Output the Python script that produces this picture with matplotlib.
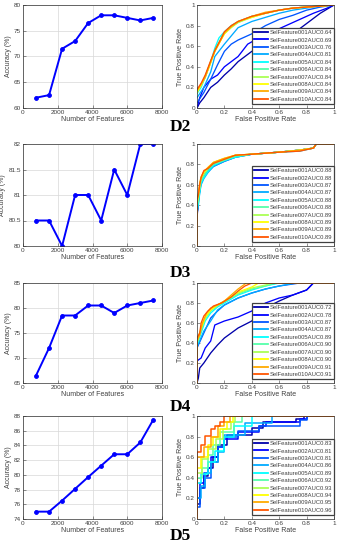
import matplotlib
matplotlib.use("Agg")
import matplotlib.pyplot as plt

plt.rcParams['font.family'] = ['Liberation Sans', 'DejaVu Sans']

# number of features used for every accuracy point
n_features = [750, 1500, 2250, 3000, 3750, 4500, 5250, 6000, 6750, 7500]

acc_d2 = [62, 62.5, 71.5, 73, 76.5, 78, 78, 77.5, 77, 77.5]
acc_d3 = [80.5, 80.5, 80, 81, 81, 80.5, 81.5, 81, 82, 82]
acc_d4 = [66.5, 72, 78.5, 78.5, 80.5, 80.5, 79, 80.5, 81, 81.5]
acc_d5 = [75, 75, 76.5, 78.1, 79.7, 81.25, 82.8, 82.8, 84.4, 87.5]

dataset_names = ['D2', 'D3', 'D4', 'D5']

auc_d2 = [0.64, 0.69, 0.76, 0.81, 0.84, 0.84, 0.84, 0.84, 0.84, 0.84]
auc_d3 = [0.88, 0.88, 0.87, 0.87, 0.88, 0.88, 0.89, 0.89, 0.89, 0.89]
auc_d4 = [0.72, 0.78, 0.87, 0.87, 0.89, 0.90, 0.90, 0.90, 0.91, 0.91]
auc_d5 = [0.83, 0.81, 0.81, 0.86, 0.89, 0.92, 0.93, 0.94, 0.95, 0.96]

# MATLAB jet(10)
curve_colors = [(0, 0, 0.667), (0, 0, 1), (0, 0.333, 1), (0, 0.667, 1), (0, 1, 1),
                (0.333, 1, 0.667), (0.667, 1, 0.333), (1, 1, 0), (1, 0.667, 0), (1, 0.333, 0)]

# ROC curves (fpr, tpr)
roc_d2 = [
    ([0, 0.02, 0.05, 0.1, 0.15, 0.2, 0.25, 0.3, 0.4, 0.5, 0.6, 0.7, 0.8, 0.9, 1],
     [0, 0.05, 0.1, 0.2, 0.25, 0.32, 0.38, 0.45, 0.55, 0.6, 0.66, 0.72, 0.82, 0.92, 1]),
    ([0, 0.02, 0.05, 0.1, 0.15, 0.2, 0.3, 0.37, 0.45, 0.55, 0.65, 0.75, 0.85, 0.95, 1],
     [0, 0.1, 0.2, 0.28, 0.32, 0.4, 0.5, 0.62, 0.68, 0.74, 0.8, 0.86, 0.92, 0.97, 1]),
    ([0, 0.05, 0.1, 0.15, 0.2, 0.25, 0.3, 0.4, 0.5, 0.6, 0.7, 0.8, 0.9, 1],
     [0.05, 0.15, 0.28, 0.42, 0.55, 0.62, 0.66, 0.72, 0.8, 0.86, 0.9, 0.95, 0.98, 1]),
    ([0, 0.05, 0.1, 0.13, 0.2, 0.25, 0.3, 0.4, 0.5, 0.6, 0.7, 0.85, 1],
     [0.1, 0.2, 0.35, 0.5, 0.62, 0.7, 0.78, 0.84, 0.88, 0.92, 0.95, 0.98, 1]),
    ([0, 0.03, 0.06, 0.1, 0.13, 0.16, 0.2, 0.25, 0.3, 0.4, 0.5, 0.6, 0.7, 0.8, 0.9, 1],
     [0.14, 0.2, 0.3, 0.45, 0.58, 0.68, 0.74, 0.8, 0.84, 0.89, 0.92, 0.95, 0.97, 0.98, 0.99, 1]),
    ([0, 0.03, 0.06, 0.1, 0.13, 0.17, 0.2, 0.25, 0.3, 0.4, 0.5, 0.6, 0.7, 0.8, 0.9, 1],
     [0.15, 0.22, 0.3, 0.44, 0.56, 0.66, 0.73, 0.79, 0.83, 0.89, 0.92, 0.95, 0.97, 0.98, 0.99, 1]),
    ([0, 0.03, 0.06, 0.1, 0.13, 0.17, 0.2, 0.25, 0.3, 0.4, 0.5, 0.6, 0.7, 0.8, 0.9, 1],
     [0.16, 0.22, 0.31, 0.45, 0.55, 0.65, 0.72, 0.78, 0.83, 0.88, 0.92, 0.95, 0.97, 0.98, 0.99, 1]),
    ([0, 0.03, 0.06, 0.1, 0.13, 0.17, 0.2, 0.25, 0.3, 0.4, 0.5, 0.6, 0.7, 0.8, 0.9, 1],
     [0.15, 0.22, 0.3, 0.44, 0.55, 0.65, 0.72, 0.79, 0.84, 0.88, 0.92, 0.95, 0.97, 0.98, 0.99, 1]),
    ([0, 0.03, 0.06, 0.1, 0.13, 0.17, 0.2, 0.25, 0.3, 0.4, 0.5, 0.6, 0.7, 0.8, 0.9, 1],
     [0.17, 0.23, 0.3, 0.45, 0.55, 0.65, 0.73, 0.79, 0.84, 0.89, 0.93, 0.95, 0.97, 0.98, 0.99, 1]),
    ([0, 0.03, 0.06, 0.1, 0.13, 0.17, 0.2, 0.25, 0.3, 0.4, 0.5, 0.6, 0.7, 0.8, 0.9, 1],
     [0.18, 0.24, 0.32, 0.46, 0.56, 0.66, 0.74, 0.8, 0.84, 0.89, 0.92, 0.95, 0.97, 0.98, 0.99, 1]),
]

d3_fpr = [0, 0, 0.01, 0.02, 0.03, 0.05, 0.08, 0.12, 0.2, 0.28, 0.4, 0.6, 0.75, 0.85, 0.87, 1]
roc_d3 = [
    (d3_fpr, [0, 0.27, 0.45, 0.55, 0.64, 0.69, 0.74, 0.79, 0.84, 0.88, 0.9, 0.92, 0.94, 0.96, 1, 1]),
    (d3_fpr, [0, 0.3, 0.46, 0.56, 0.64, 0.7, 0.75, 0.8, 0.84, 0.88, 0.9, 0.92, 0.94, 0.96, 1, 1]),
    (d3_fpr, [0, 0.3, 0.44, 0.54, 0.62, 0.68, 0.73, 0.78, 0.83, 0.87, 0.9, 0.92, 0.94, 0.96, 1, 1]),
    (d3_fpr, [0, 0.32, 0.4, 0.52, 0.6, 0.66, 0.72, 0.78, 0.83, 0.87, 0.9, 0.92, 0.93, 0.96, 1, 1]),
    (d3_fpr, [0, 0.35, 0.42, 0.53, 0.62, 0.67, 0.73, 0.79, 0.84, 0.87, 0.9, 0.92, 0.94, 0.96, 1, 1]),
    (d3_fpr, [0, 0.38, 0.46, 0.56, 0.64, 0.69, 0.75, 0.8, 0.84, 0.88, 0.9, 0.92, 0.94, 0.96, 1, 1]),
    (d3_fpr, [0, 0.4, 0.48, 0.58, 0.66, 0.71, 0.76, 0.81, 0.85, 0.89, 0.9, 0.92, 0.94, 0.96, 1, 1]),
    (d3_fpr, [0, 0.42, 0.5, 0.6, 0.67, 0.72, 0.77, 0.82, 0.86, 0.89, 0.9, 0.92, 0.94, 0.96, 1, 1]),
    (d3_fpr, [0, 0.45, 0.52, 0.62, 0.68, 0.73, 0.77, 0.82, 0.86, 0.89, 0.9, 0.92, 0.94, 0.96, 1, 1]),
    (d3_fpr, [0, 0.45, 0.5, 0.6, 0.67, 0.74, 0.76, 0.81, 0.85, 0.89, 0.9, 0.92, 0.93, 0.96, 1, 1]),
]

roc_d4 = [
    ([0, 0.01, 0.02, 0.05, 0.1, 0.15, 0.2, 0.3, 0.4, 0.45, 0.5, 0.6, 0.7, 0.8, 0.85, 1],
     [0, 0.05, 0.15, 0.2, 0.3, 0.38, 0.45, 0.55, 0.62, 0.7, 0.75, 0.82, 0.88, 0.93, 1, 1]),
    ([0, 0, 0.03, 0.06, 0.1, 0.13, 0.2, 0.3, 0.4, 0.5, 0.6, 0.7, 0.8, 0.85, 1],
     [0, 0.22, 0.25, 0.35, 0.42, 0.58, 0.62, 0.66, 0.72, 0.8, 0.85, 0.88, 0.93, 1, 1]),
    ([0, 0, 0.05, 0.1, 0.15, 0.2, 0.3, 0.4, 0.5, 0.6, 0.75, 1],
     [0, 0.35, 0.5, 0.65, 0.72, 0.78, 0.85, 0.9, 0.94, 0.97, 1, 1]),
    ([0, 0, 0.05, 0.1, 0.15, 0.2, 0.3, 0.4, 0.5, 0.6, 0.72, 1],
     [0, 0.36, 0.52, 0.62, 0.73, 0.78, 0.85, 0.9, 0.94, 0.97, 1, 1]),
    ([0, 0, 0.03, 0.06, 0.1, 0.15, 0.2, 0.3, 0.4, 0.5, 0.6, 1],
     [0, 0.38, 0.5, 0.62, 0.7, 0.76, 0.8, 0.88, 0.93, 0.97, 1, 1]),
    ([0, 0, 0.03, 0.06, 0.1, 0.15, 0.2, 0.3, 0.4, 0.5, 0.58, 1],
     [0, 0.4, 0.52, 0.64, 0.72, 0.77, 0.81, 0.89, 0.94, 0.97, 1, 1]),
    ([0, 0, 0.03, 0.06, 0.1, 0.15, 0.2, 0.3, 0.4, 0.5, 0.55, 1],
     [0, 0.4, 0.54, 0.65, 0.73, 0.78, 0.82, 0.9, 0.95, 0.98, 1, 1]),
    ([0, 0, 0.03, 0.06, 0.1, 0.15, 0.2, 0.3, 0.4, 0.45, 1],
     [0, 0.42, 0.55, 0.66, 0.73, 0.78, 0.82, 0.91, 0.96, 1, 1]),
    ([0, 0, 0.02, 0.04, 0.07, 0.1, 0.15, 0.2, 0.25, 0.3, 0.36, 1],
     [0, 0.42, 0.48, 0.6, 0.7, 0.75, 0.78, 0.82, 0.88, 0.94, 1, 1]),
    ([0, 0, 0.02, 0.03, 0.05, 0.08, 0.12, 0.18, 0.25, 0.3, 0.35, 0.4, 1],
     [0, 0.45, 0.5, 0.6, 0.67, 0.72, 0.77, 0.8, 0.86, 0.92, 0.97, 1, 1]),
]

# D5 curves are step curves: corners (fpr, tpr)
roc_d5 = [
    ([0, 0, 0.02, 0.05, 0.08, 0.12, 0.15, 0.22, 0.4, 0.48, 0.72, 0.78, 1],
     [0, 0.15, 0.3, 0.42, 0.5, 0.6, 0.72, 0.82, 0.88, 0.94, 0.97, 1, 1]),
    ([0, 0, 0.02, 0.05, 0.08, 0.1, 0.15, 0.2, 0.3, 0.45, 0.5, 0.75, 0.8, 1],
     [0, 0.2, 0.35, 0.45, 0.5, 0.6, 0.7, 0.78, 0.84, 0.9, 0.94, 0.97, 1, 1]),
    ([0, 0, 0.02, 0.06, 0.1, 0.15, 0.2, 0.3, 0.45, 0.75, 0.8, 1],
     [0, 0.12, 0.3, 0.4, 0.55, 0.7, 0.8, 0.85, 0.9, 0.96, 1, 1]),
    ([0, 0, 0.03, 0.06, 0.1, 0.15, 0.2, 0.35, 0.55, 1],
     [0, 0.2, 0.32, 0.45, 0.55, 0.65, 0.82, 0.93, 1, 1]),
    ([0, 0, 0.03, 0.08, 0.13, 0.2, 0.27, 0.4, 1],
     [0, 0.35, 0.44, 0.55, 0.66, 0.8, 0.9, 1, 1]),
    ([0, 0, 0.04, 0.08, 0.12, 0.17, 0.27, 0.33, 1],
     [0, 0.4, 0.5, 0.62, 0.72, 0.84, 0.94, 1, 1]),
    ([0, 0, 0.04, 0.08, 0.14, 0.19, 0.25, 0.28, 1],
     [0, 0.45, 0.58, 0.68, 0.78, 0.87, 0.94, 1, 1]),
    ([0, 0, 0.03, 0.08, 0.12, 0.17, 0.22, 0.26, 1],
     [0, 0.5, 0.6, 0.72, 0.8, 0.87, 0.94, 1, 1]),
    ([0, 0, 0.05, 0.1, 0.15, 0.2, 0.24, 1],
     [0, 0.6, 0.7, 0.8, 0.9, 0.94, 1, 1]),
    ([0, 0, 0.03, 0.06, 0.1, 0.13, 0.17, 0.2, 1],
     [0, 0.65, 0.72, 0.81, 0.87, 0.9, 0.94, 1, 1]),
]

accs = [acc_d2, acc_d3, acc_d4, acc_d5]
aucs = [auc_d2, auc_d3, auc_d4, auc_d5]
rocs = [roc_d2, roc_d3, roc_d4, roc_d5]
acc_ylims = [(60, 80), (80, 82), (65, 85), (74, 88)]
acc_yticks = [[60, 65, 70, 75, 80], [80, 80.5, 81, 81.5, 82], [65, 70, 75, 80, 85],
              [74, 76, 78, 80, 82, 84, 86, 88]]

# axes boxes in pixels (top, bottom) for each row
rows_px = [(5, 108), (144, 246), (283, 383), (416, 519)]
label_y_px = [127, 273, 407, 536]

W, H = 339, 550
fig = plt.figure(figsize=(W / 100, H / 100), dpi=100)
tick_col = '#404040'
fs = 4.6

for i in range(4):
    top, bot = rows_px[i]
    b = 1 - bot / H
    h = (bot - top) / H

    ax = fig.add_axes([23 / W, b, 139 / W, h])
    ax.plot(n_features, accs[i], '-o', color='blue', lw=1.4, ms=2.8,
            markerfacecolor='blue', markeredgewidth=0.6)
    ax.set_xlim(0, 8000)
    ax.set_ylim(*acc_ylims[i])
    ax.set_xticks([0, 2000, 4000, 6000, 8000])
    ax.set_yticks(acc_yticks[i])
    ax.set_yticklabels([('%g' % v) for v in acc_yticks[i]])
    ax.grid(True, color='#d8d8d8', lw=0.5)
    ax.set_axisbelow(True)
    ax.tick_params(direction='in', length=2, width=0.4, labelsize=fs, pad=1.5,
                   colors=tick_col)
    ax.set_xlabel('Number of Features', fontsize=fs + 0.4, labelpad=1, color=tick_col)
    ax.set_ylabel('Accuracy (%)', fontsize=fs + 0.4, labelpad=1.5, color=tick_col)
    for s in ax.spines.values():
        s.set_linewidth(0.5)
        s.set_color('#303030')

    ax2 = fig.add_axes([197 / W, b, 137 / W, h])
    lw = 1.1 if i == 3 else 0.95
    for k in range(10):
        fpr, tpr = rocs[i][k]
        lab = 'SelFeature%03dAUC%.2f' % (k + 1, aucs[i][k])
        if i == 3:
            ax2.plot(fpr, tpr, color=curve_colors[k], lw=lw, drawstyle='steps-post', label=lab)
        else:
            ax2.plot(fpr, tpr, color=curve_colors[k], lw=lw, label=lab)
    ax2.set_xlim(0, 1)
    ax2.set_ylim(0, 1)
    ticks = [0, 0.2, 0.4, 0.6, 0.8, 1]
    ax2.set_xticks(ticks)
    ax2.set_yticks(ticks)
    ax2.set_xticklabels(['0', '0.2', '0.4', '0.6', '0.8', '1'])
    ax2.set_yticklabels(['0', '0.2', '0.4', '0.6', '0.8', '1'])
    ax2.tick_params(direction='in', length=2, width=0.4, labelsize=fs, pad=1.5,
                    colors=tick_col)
    ax2.set_xlabel('False Positive Rate', fontsize=fs + 0.4, labelpad=1, color=tick_col)
    ax2.set_ylabel('True Positive Rate', fontsize=fs + 0.4, labelpad=1.5, color=tick_col)
    for s in ax2.spines.values():
        s.set_linewidth(0.5)
        s.set_color('#303030')
    leg = ax2.legend(loc='lower right', bbox_to_anchor=(1.0, 0.04), fontsize=4.2,
                     handlelength=2.3, handletextpad=0.3, labelspacing=0.4,
                     borderpad=0.35, borderaxespad=0, fancybox=False, framealpha=1)
    leg.get_frame().set_edgecolor('#404040')
    leg.get_frame().set_linewidth(0.9)
    for line in leg.get_lines():
        line.set_linewidth(1.3)
    for t in leg.get_texts():
        t.set_color(tick_col)

    fig.text(170 / W, 1 - label_y_px[i] / H, dataset_names[i], fontsize=12.5,
             fontweight='bold', family='Liberation Serif', ha='left', va='center')

fig.savefig('out.png', dpi=100)
